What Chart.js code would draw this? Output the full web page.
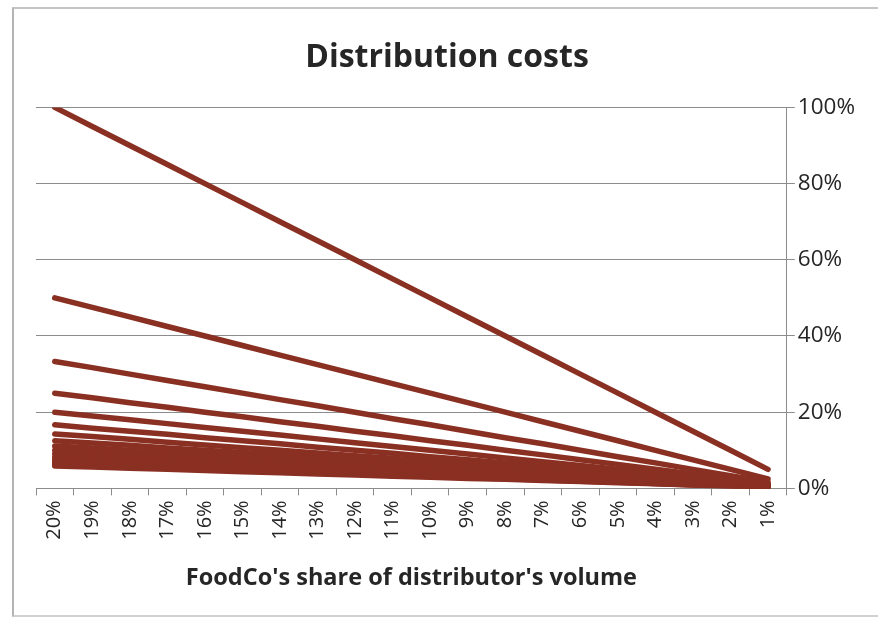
<!DOCTYPE html>
<html>
<head>
<meta charset="utf-8">
<title>Distribution costs</title>
<script src="https://cdn.jsdelivr.net/npm/chart.js@4/dist/chart.umd.min.js"></script>
<style>
  html, body { margin: 0; padding: 0; background: #ffffff; overflow: hidden; }
  #wrap { position: relative; width: 878px; height: 623px; overflow: hidden; }
  #frame {
    position: absolute; left: 12px; top: 7px; width: 866px; height: 610px;
    border-left: 2px solid #b4b4b4; border-top: 2px solid #c4c4c4; border-bottom: 2px solid #d0d0d0;
    box-sizing: border-box; pointer-events: none;
  }
  canvas { position: absolute; left: 0; top: 0; }
</style>
</head>
<body>
<div id="wrap">
  <canvas id="chart" width="878" height="623"></canvas>
  <div id="frame"></div>
</div>
<script>
// FoodCo's share of the distributor's volume (x categories)
const shares = ['20%', '19%', '18%', '17%', '16%', '15%', '14%', '13%', '12%', '11%',
                '10%', '9%', '8%', '7%', '6%', '5%', '4%', '3%', '2%', '1%'];

// Distribution cost curves, in percent
const curve01 = [100, 95, 90, 85, 80, 75, 70, 65, 60, 55, 50, 45, 40, 35, 30, 25, 20, 15, 10, 5];
const curve02 = [50, 47.5, 45, 42.5, 40, 37.5, 35, 32.5, 30, 27.5, 25, 22.5, 20, 17.5, 15, 12.5, 10, 7.5, 5, 2.5];
const curve03 = [33.3, 31.7, 30, 28.3, 26.7, 25, 23.3, 21.7, 20, 18.3, 16.7, 15, 13.3, 11.7, 10, 8.3, 6.7, 5, 3.3, 1.7];
const curve04 = [25, 23.8, 22.5, 21.3, 20, 18.8, 17.5, 16.3, 15, 13.8, 12.5, 11.3, 10, 8.8, 7.5, 6.3, 5, 3.8, 2.5, 1.3];
const curve05 = [20, 19, 18, 17, 16, 15, 14, 13, 12, 11, 10, 9, 8, 7, 6, 5, 4, 3, 2, 1];
const curve06 = [16.7, 15.8, 15, 14.2, 13.3, 12.5, 11.7, 10.8, 10, 9.2, 8.3, 7.5, 6.7, 5.8, 5, 4.2, 3.3, 2.5, 1.7, 0.8];
const curve07 = [14.3, 13.6, 12.9, 12.1, 11.4, 10.7, 10, 9.3, 8.6, 7.9, 7.1, 6.4, 5.7, 5, 4.3, 3.6, 2.9, 2.1, 1.4, 0.7];
const curve08 = [12.5, 11.9, 11.3, 10.6, 10, 9.4, 8.8, 8.1, 7.5, 6.9, 6.3, 5.6, 5, 4.4, 3.8, 3.1, 2.5, 1.9, 1.3, 0.6];
const curve09 = [11.1, 10.6, 10, 9.4, 8.9, 8.3, 7.8, 7.2, 6.7, 6.1, 5.6, 5, 4.4, 3.9, 3.3, 2.8, 2.2, 1.7, 1.1, 0.6];
const curve10 = [10, 9.5, 9, 8.5, 8, 7.5, 7, 6.5, 6, 5.5, 5, 4.5, 4, 3.5, 3, 2.5, 2, 1.5, 1, 0.5];
const curve11 = [9.1, 8.6, 8.2, 7.7, 7.3, 6.8, 6.4, 5.9, 5.5, 5, 4.5, 4.1, 3.6, 3.2, 2.7, 2.3, 1.8, 1.4, 0.9, 0.5];
const curve12 = [8.3, 7.9, 7.5, 7.1, 6.7, 6.3, 5.8, 5.4, 5, 4.6, 4.2, 3.8, 3.3, 2.9, 2.5, 2.1, 1.7, 1.3, 0.8, 0.4];
const curve13 = [7.7, 7.3, 6.9, 6.5, 6.2, 5.8, 5.4, 5, 4.6, 4.2, 3.8, 3.5, 3.1, 2.7, 2.3, 1.9, 1.5, 1.2, 0.8, 0.4];
const curve14 = [7.1, 6.8, 6.4, 6.1, 5.7, 5.4, 5, 4.6, 4.3, 3.9, 3.6, 3.2, 2.9, 2.5, 2.1, 1.8, 1.4, 1.1, 0.7, 0.4];
const curve15 = [6.7, 6.3, 6, 5.7, 5.3, 5, 4.7, 4.3, 4, 3.7, 3.3, 3, 2.7, 2.3, 2, 1.7, 1.3, 1, 0.7, 0.3];
const curve16 = [6.3, 5.9, 5.6, 5.3, 5, 4.7, 4.4, 4.1, 3.8, 3.4, 3.1, 2.8, 2.5, 2.2, 1.9, 1.6, 1.3, 0.9, 0.6, 0.3];
const curve17 = [5.9, 5.6, 5.3, 5, 4.7, 4.4, 4.1, 3.8, 3.5, 3.2, 2.9, 2.6, 2.4, 2.1, 1.8, 1.5, 1.2, 0.9, 0.6, 0.3];

// Right-hand axis ticks
const yTicks = [0, 20, 40, 60, 80, 100];

const curves = [curve01, curve02, curve03, curve04, curve05, curve06, curve07, curve08, curve09,
                curve10, curve11, curve12, curve13, curve14, curve15, curve16, curve17];

const LINE_COLOR = '#8a3023';
const FONT = '"Open Sans", Lato, sans-serif';

const datasets = curves.map((values, i) => ({
  label: 'Cost ' + (i + 1),
  data: values,
  borderColor: LINE_COLOR,
  backgroundColor: LINE_COLOR,
  borderWidth: 5.5,
  borderCapStyle: 'round',
  borderJoinStyle: 'round',
  pointRadius: 0,
  pointHoverRadius: 0,
  tension: 0,
  fill: false
}));

new Chart(document.getElementById('chart'), {
  type: 'line',
  data: { labels: shares, datasets },
  options: {
    responsive: false,
    animation: false,
    layout: { padding: { left: 36, right: 20, top: 0, bottom: 31 } },
    plugins: {
      legend: { display: false },
      tooltip: { enabled: false },
      title: {
        display: true,
        text: 'Distribution costs',
        color: '#262626',
        font: { family: FONT, size: 32, weight: 'bold' },
        padding: { top: 39, bottom: 30 }
      }
    },
    scales: {
      x: {
        type: 'category',
        offset: true,
        border: { display: true, color: '#8c8c8c', width: 1 },
        grid: {
          offset: true,
          drawOnChartArea: false,
          drawTicks: true,
          tickLength: 7,
          color: '#8c8c8c'
        },
        ticks: {
          color: '#262626',
          font: { family: FONT, size: 20 },
          minRotation: 90,
          maxRotation: 90,
          autoSkip: false,
          padding: 5
        },
        title: {
          display: true,
          text: "FoodCo's share of distributor's volume",
          color: '#262626',
          font: { family: FONT, size: 23.5, weight: 'bold' },
          padding: { top: 19, bottom: 0 }
        }
      },
      y: {
        position: 'right',
        min: 0,
        max: 100,
        border: { display: true, color: '#8c8c8c', width: 1 },
        grid: {
          color: '#8c8c8c',
          lineWidth: 1,
          drawTicks: true,
          tickLength: 8
        },
        afterBuildTicks: (axis) => { axis.ticks = yTicks.map(v => ({ value: v })); },
        ticks: {
          color: '#262626',
          font: { family: FONT, size: 22.5 },
          padding: 3,
          callback: (v) => v + '%'
        }
      }
    }
  }
});
</script>
</body>
</html>
